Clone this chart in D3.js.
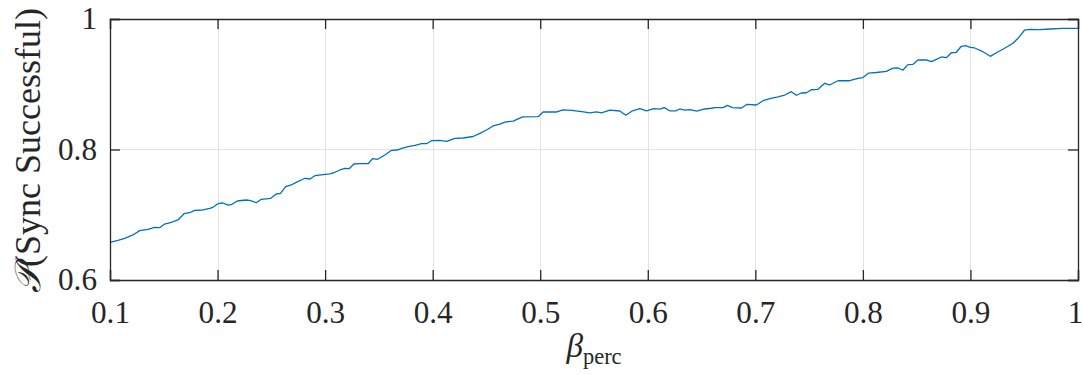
<!DOCTYPE html>
<html>
<head>
<meta charset="utf-8">
<script src="https://cdn.jsdelivr.net/npm/d3@7"></script>
<style>
  html, body { margin: 0; padding: 0; background: #fff; }
  svg { display: block; }
  svg text { font-family: "Liberation Serif", "DejaVu Serif", "Times New Roman", Times, serif; fill: #262626; }
</style>
</head>
<body>
<svg id="chart" width="1083" height="375"></svg>
<script>
// ---- data ----
const betaPerc = [
  0.100,0.1074,0.1137,0.1214,0.1276,0.1353,0.1415,0.1462,0.1508,0.1570,
  0.1632,0.1688,0.1741,0.1787,0.1864,0.1927,0.1957,0.2004,0.2050,0.2097,
  0.2134,0.2183,0.2267,0.2308,0.2360,0.2406,0.2494,0.2546,0.2586,0.2633,
  0.2685,0.2731,0.2778,0.2812,0.2859,0.2905,0.2982,0.3045,0.3091,0.3138,
  0.3184,0.3224,0.3268,0.3323,0.3401,0.3441,0.3488,0.3556,0.3618,0.3670,
  0.3711,0.3772,0.3835,0.3897,0.3943,0.3990,0.4067,0.4129,0.4206,0.4283,
  0.4376,0.4439,0.4501,0.4562,0.4618,0.4671,0.4748,0.4836,0.4980,0.5027,
  0.5154,0.5210,0.5294,0.5387,0.5461,0.5523,0.5570,0.5647,0.5740,0.5796,
  0.5851,0.5926,0.5988,0.6056,0.6112,0.6153,0.6204,0.6260,0.6297,0.6344,
  0.6390,0.6455,0.6530,0.6592,0.6623,0.6700,0.6741,0.6787,0.6871,0.6923,
  0.7010,0.7072,0.7134,0.7211,0.7273,0.7335,0.7382,0.7428,0.7475,0.7521,
  0.7583,0.7645,0.7691,0.7769,0.7877,0.7955,0.8001,0.8054,0.8125,0.8218,
  0.8280,0.8326,0.8373,0.8419,0.8466,0.8512,0.8590,0.8637,0.8683,0.8729,
  0.8776,0.8822,0.8869,0.8915,0.8955,0.8999,0.9039,0.9116,0.9185,0.9241,
  0.9302,0.9395,0.9442,0.9504,0.9550,0.9643,0.9736,0.9860,1.000
];
const pSync = [
  0.6578,0.6608,0.6639,0.6690,0.6756,0.6777,0.6808,0.6802,0.6858,0.6884,
  0.6920,0.7016,0.7031,0.7068,0.7073,0.7099,0.7114,0.7169,0.7180,0.7149,
  0.7160,0.7211,0.7226,0.7215,0.7185,0.7237,0.7252,0.7318,0.7329,0.7430,
  0.7456,0.7497,0.7533,0.7559,0.7548,0.7598,0.7614,0.7625,0.7651,0.7686,
  0.7712,0.7706,0.7778,0.7782,0.7782,0.7859,0.7850,0.7916,0.7988,0.7992,
  0.8018,0.8043,0.8064,0.8089,0.8089,0.8135,0.8141,0.8123,0.8169,0.8176,
  0.8199,0.8248,0.8299,0.8361,0.8386,0.8421,0.8434,0.8501,0.8503,0.8575,
  0.8575,0.8608,0.8601,0.8579,0.8562,0.8578,0.8562,0.8602,0.8590,0.8526,
  0.8587,0.8625,0.8593,0.8628,0.8618,0.8642,0.8593,0.8593,0.8621,0.8602,
  0.8610,0.8587,0.8621,0.8632,0.8641,0.8641,0.8677,0.8641,0.8636,0.8693,
  0.8682,0.8748,0.8779,0.8805,0.8835,0.8886,0.8831,0.8866,0.8870,0.8916,
  0.8923,0.9015,0.8989,0.9054,0.9054,0.9091,0.9103,0.9172,0.9180,0.9198,
  0.9246,0.9249,0.9218,0.9300,0.9306,0.9372,0.9372,0.9346,0.9382,0.9418,
  0.9407,0.9483,0.9490,0.9582,0.9591,0.9566,0.9556,0.9499,0.9428,0.9483,
  0.9536,0.9628,0.9704,0.9831,0.9842,0.9836,0.9847,0.9857,0.9855
];
const xTicks = [0.1,0.2,0.3,0.4,0.5,0.6,0.7,0.8,0.9,1];
const xTickLabels = ["0.1","0.2","0.3","0.4","0.5","0.6","0.7","0.8","0.9","1"];
const yTicks = [0.6,0.8,1];
const yTickLabels = ["0.6","0.8","1"];

// ---- layout ----
const svg = d3.select("#chart");
const L = 110, R = 1078, T = 19, B = 280;
const x = d3.scaleLinear().domain([0.1, 1]).range([L, R]);
const y = d3.scaleLinear().domain([0.6, 1]).range([B, T]);
const axisColor = "#262626";
const tickLen = 10;

// size fonts so that texts take the widths seen in the reference
function fitSize(str, targetWidth, italic) {
  const t = svg.append("text").attr("font-size", 100).text(str);
  if (italic) t.attr("font-style", "italic");
  const w = t.node().getComputedTextLength();
  t.remove();
  return 100 * targetWidth / w;
}
const tickFont = Math.min(34, Math.max(26, fitSize("0.1", 39)));

// grid
const grid = svg.append("g");
grid.selectAll("line.gx").data(xTicks).join("line")
  .attr("x1", d => Math.round(x(d)) + 0.5).attr("x2", d => Math.round(x(d)) + 0.5)
  .attr("y1", T).attr("y2", B)
  .attr("stroke", "#e3e3e3").attr("stroke-width", 1);
grid.selectAll("line.gy").data(yTicks).join("line")
  .attr("y1", d => Math.round(y(d)) + 0.5).attr("y2", d => Math.round(y(d)) + 0.5)
  .attr("x1", L).attr("x2", R)
  .attr("stroke", "#e3e3e3").attr("stroke-width", 1);

// line
const line = d3.line().x((d, i) => x(betaPerc[i])).y(d => y(d));
svg.append("path")
  .datum(pSync)
  .attr("d", line)
  .attr("fill", "none")
  .attr("stroke", "#0072BD")
  .attr("stroke-width", 1.3)
  .attr("stroke-linejoin", "round");

// axes (inward ticks on all sides)
const axB = d3.axisBottom(x).tickValues(xTicks).tickSize(-tickLen).tickPadding(21)
  .tickFormat((d, i) => xTickLabels[i]);
const axT = d3.axisTop(x).tickValues(xTicks).tickSize(-tickLen).tickFormat("");
const axL = d3.axisLeft(y).tickValues(yTicks).tickSize(-tickLen).tickPadding(13)
  .tickFormat((d, i) => yTickLabels[i]);
const axR = d3.axisRight(y).tickValues(yTicks).tickSize(-tickLen).tickFormat("");

function style(g) {
  g.attr("font-family", null);
  g.selectAll("path.domain").attr("stroke", axisColor).attr("stroke-width", 1.3);
  g.selectAll(".tick line").attr("stroke", axisColor).attr("stroke-width", 1.3);
  g.selectAll(".tick text").attr("font-size", tickFont).attr("fill", axisColor);
}
const gB = svg.append("g").attr("transform", `translate(0,${B})`).call(axB).call(style);
gB.selectAll(".tick text").filter(d => d === 1).attr("dx", -3);
svg.append("g").attr("transform", `translate(0,${T})`).call(axT).call(style);
svg.append("g").attr("transform", `translate(${L},0)`).call(axL).call(style);
svg.append("g").attr("transform", `translate(${R},0)`).call(axR).call(style);

// y label
const yLabelMain = "(Sync Successful)";
const yFont = Math.min(36, Math.max(26, fitSize("P" + yLabelMain, 285)));
const yl = svg.append("text")
  .attr("transform", `translate(40,${(T + B) / 2 + 1}) rotate(-90)`)
  .attr("text-anchor", "middle")
  .attr("font-size", yFont)
  .attr("fill", axisColor);
yl.append("tspan").attr("font-style", "italic").text("\u{1D4AB}");
yl.append("tspan").text(yLabelMain);

// x label
const xl = svg.append("text")
  .attr("x", (L + R) / 2)
  .attr("y", 357)
  .attr("text-anchor", "middle")
  .attr("fill", axisColor);
xl.append("tspan").attr("font-size", tickFont + 2).attr("font-style", "italic").text("β");
xl.append("tspan").attr("font-size", tickFont * 0.72).attr("dy", 7).text("perc");
</script>
</body>
</html>
